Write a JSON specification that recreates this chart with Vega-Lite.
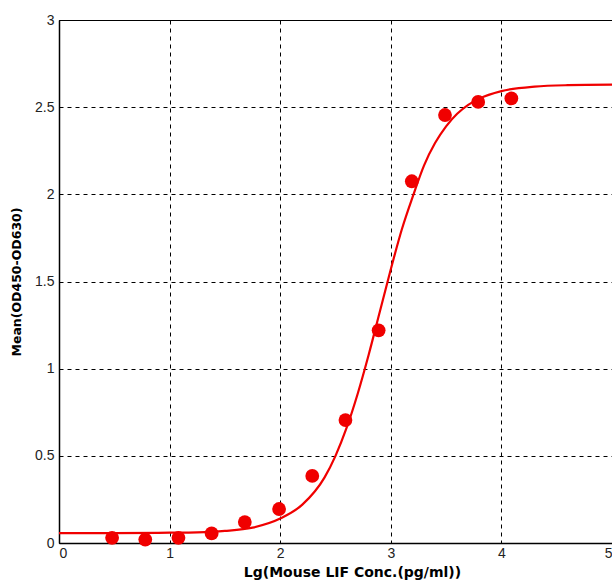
{
  "$schema": "https://vega.github.io/schema/vega-lite/v6.json",
  "width": 553,
  "height": 523,
  "autosize": {"type": "none"},
  "padding": {"left": 59, "top": 20, "right": 0, "bottom": 40},
  "background": "white",
  "config": {
    "view": {"stroke": "black", "strokeWidth": 1},
    "axis": {
      "labelFont": "Liberation Sans",
      "labelFontSize": 14,
      "labelColor": "#222222",
      "titleFont": "DejaVu Sans",
      "titleFontWeight": "bold",
      "titleColor": "black",
      "domainColor": "black",
      "domainWidth": 1.5,
      "ticks": false,
      "gridColor": "black",
      "gridDash": [4, 4],
      "gridWidth": 1,
      "gridOpacity": 1
    }
  },
  "datasets": {
    "points": [
      {"x": 0.48, "y": 0.03},
      {"x": 0.78, "y": 0.02},
      {"x": 1.08, "y": 0.03},
      {"x": 1.38, "y": 0.055},
      {"x": 1.68, "y": 0.12},
      {"x": 1.99, "y": 0.195},
      {"x": 2.29, "y": 0.385},
      {"x": 2.59, "y": 0.705},
      {"x": 2.89, "y": 1.22},
      {"x": 3.19, "y": 2.075},
      {"x": 3.49, "y": 2.455},
      {"x": 3.79, "y": 2.53},
      {"x": 4.09, "y": 2.55}
    ],
    "curve": [
      {"x": 0.0, "y": 0.057},
      {"x": 0.5, "y": 0.057},
      {"x": 1.0, "y": 0.059},
      {"x": 1.25, "y": 0.061},
      {"x": 1.5, "y": 0.069},
      {"x": 1.75, "y": 0.088},
      {"x": 2.0, "y": 0.14},
      {"x": 2.2, "y": 0.22},
      {"x": 2.4, "y": 0.375},
      {"x": 2.5, "y": 0.5},
      {"x": 2.6, "y": 0.66},
      {"x": 2.7, "y": 0.855},
      {"x": 2.8, "y": 1.08},
      {"x": 2.9, "y": 1.325},
      {"x": 3.0, "y": 1.57},
      {"x": 3.1, "y": 1.8},
      {"x": 3.2, "y": 1.99},
      {"x": 3.3, "y": 2.165},
      {"x": 3.4, "y": 2.294},
      {"x": 3.5, "y": 2.39},
      {"x": 3.6, "y": 2.462},
      {"x": 3.7, "y": 2.513},
      {"x": 3.8, "y": 2.549},
      {"x": 4.0, "y": 2.592},
      {"x": 4.3, "y": 2.618},
      {"x": 4.6, "y": 2.626},
      {"x": 5.0, "y": 2.629}
    ]
  },
  "layer": [
    {
      "data": {"name": "curve"},
      "mark": {"type": "line", "color": "#f00000", "strokeWidth": 2.2, "interpolate": "monotone"},
      "encoding": {
        "x": {
          "field": "x", "type": "quantitative",
          "scale": {"domain": [0, 5], "nice": false},
          "axis": {
            "values": [0, 1, 2, 3, 4, 5],
            "format": "~g",
            "title": "Lg(Mouse LIF Conc.(pg/ml))",
            "titleFontSize": 14,
            "labelPadding": 3,
            "titlePadding": 5,
            "titleX": 293
          }
        },
        "y": {
          "field": "y", "type": "quantitative",
          "scale": {"domain": [0, 3], "nice": false},
          "axis": {
            "values": [0, 0.5, 1, 1.5, 2, 2.5, 3],
            "format": "~g",
            "title": "Mean(OD450-OD630)",
            "titleFontSize": 12.5,
            "labelPadding": 5,
            "titlePadding": 11
          }
        }
      }
    },
    {
      "data": {"name": "points"},
      "mark": {"type": "circle", "color": "#f00000", "opacity": 1, "size": 190},
      "encoding": {
        "x": {"field": "x", "type": "quantitative"},
        "y": {"field": "y", "type": "quantitative"}
      }
    }
  ]
}
